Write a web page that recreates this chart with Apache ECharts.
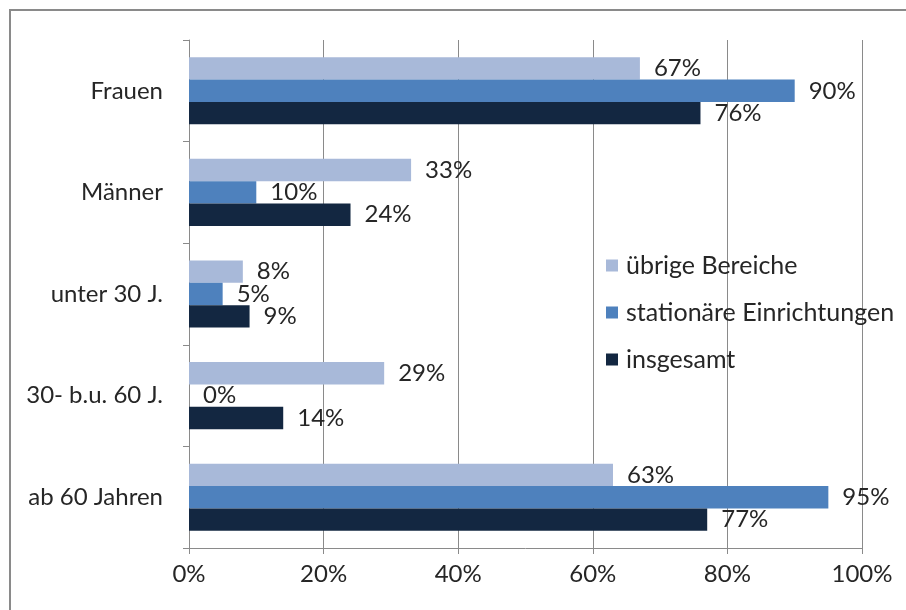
<!DOCTYPE html>
<html><head><meta charset="utf-8">
<script src="https://cdn.jsdelivr.net/npm/echarts@6/dist/echarts.min.js"></script>
<style>html,body{margin:0;padding:0;background:#fff}#c{width:906px;height:610px}</style>
</head><body><div id="c"></div>
<script>
const categories = ['Frauen', 'Männer', 'unter 30 J.', '30- b.u. 60 J.', 'ab 60 Jahren'];
const seriesNames = ['übrige Bereiche', 'stationäre Einrichtungen', 'insgesamt'];
const uebrige = [67, 33, 8, 29, 63];
const stationaer = [90, 10, 5, 0, 95];
const insgesamt = [76, 24, 9, 14, 77];
const xTicks = { min: 0, max: 100, interval: 20 };
const colors = ['#A8B9D9', '#4E81BD', '#132741'];
const FONT = 'Lato';
const chart = echarts.init(document.getElementById('c'), null, {renderer: 'canvas'});
const mk = (name, data, i) => ({
  name, type: 'bar', data, barGap: '0%', barCategoryGap: '34%',
  itemStyle: {color: colors[i]},
  label: {show: true, position: 'right', distance: 14, formatter: '{c}%',
    fontFamily: FONT, fontSize: 24, color: '#262626'}
});
chart.setOption({
  animation: false,
  textStyle: {fontFamily: FONT},
  color: colors,
  graphic: [{type: 'rect', shape: {x: 10, y: 10, width: 1000, height: 1000}, style: {fill: 'none', stroke: '#8a8a8a', lineWidth: 2}}],
  grid: {left: 189, right: 44, top: 40, bottom: 62, containLabel: false},
  legend: {orient: 'vertical', left: 601, top: 248, itemWidth: 12, itemHeight: 12, itemGap: 22, icon: 'rect',
    textStyle: {fontFamily: FONT, fontSize: 25, color: '#262626', padding: [0,0,0,3]}, data: seriesNames},
  xAxis: {type: 'value', min: xTicks.min, max: xTicks.max, interval: xTicks.interval,
    axisLine: {show: true, lineStyle: {color: '#8a8a8a'}},
    axisTick: {show: true, length: 6, lineStyle: {color: '#8a8a8a'}},
    splitLine: {show: true, lineStyle: {color: '#8a8a8a'}},
    axisLabel: {formatter: '{value}%', fontFamily: FONT, fontSize: 24, color: '#262626', margin: 14}},
  yAxis: {type: 'category', data: categories, inverse: true,
    axisLine: {show: true, lineStyle: {color: '#8a8a8a'}},
    axisTick: {show: true, length: 6, lineStyle: {color: '#8a8a8a'}},
    axisLabel: {fontFamily: FONT, fontSize: 24, color: '#262626', margin: 26}},
  series: [mk(seriesNames[0], uebrige, 0), mk(seriesNames[1], stationaer, 1), mk(seriesNames[2], insgesamt, 2)]
});
</script></body></html>
